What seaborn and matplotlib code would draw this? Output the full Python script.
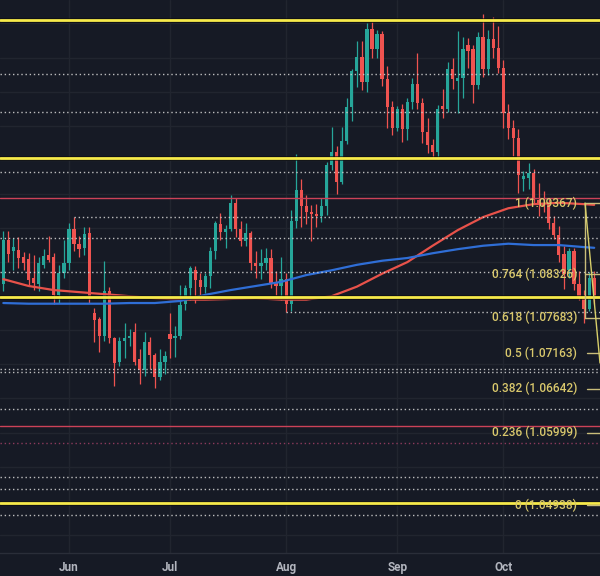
import numpy as np
import pandas as pd
import matplotlib
matplotlib.use("Agg")
import matplotlib.pyplot as plt
import matplotlib.transforms as mtrans
import seaborn as sns

# ---------------- data ----------------
dates = pd.bdate_range("2024-05-15", "2024-10-25")

opens = [1.0818, 1.0883, 1.0866, 1.0868, 1.0857, 1.0855, 1.0826, 1.0818, 1.0846, 1.0860, 1.0858, 1.0802, 1.0834,
         1.0848, 1.0898, 1.0877, 1.0870, 1.0893, 1.0775, 1.0766, 1.0741, 1.0808, 1.0739, 1.0704, 1.0734, 1.0739,
         1.0748, 1.0708, 1.0692, 1.0733, 1.0714, 1.0681, 1.0703,
         1.0744, 1.0738, 1.0742, 1.0788, 1.0812, 1.0838, 1.0824, 1.0813, 1.0830, 1.0867, 1.0906, 1.0894, 1.0898,
         1.0937, 1.0898, 1.0881, 1.0892, 1.0849, 1.0845, 1.0849, 1.0856, 1.0819, 1.0815,
         1.0825, 1.0789, 1.0910, 1.0956, 1.0932, 1.0923, 1.0920, 1.0917, 1.0932, 1.0992, 1.1012, 1.0968, 1.1028,
         1.1077, 1.1130, 1.1151, 1.1114, 1.1192, 1.1162, 1.1184, 1.1118, 1.1077,
         1.1047, 1.1074, 1.1045, 1.1085, 1.1111, 1.1083, 1.1041, 1.1022, 1.1011, 1.1079, 1.1075, 1.1133, 1.1116,
         1.1120, 1.1168, 1.1163, 1.1110, 1.1180, 1.1133, 1.1177, 1.1164,
         1.1134, 1.1068, 1.1046, 1.1032, 1.0972, 1.0974, 1.0980, 1.0941, 1.0935, 1.0937, 1.0908, 1.0890, 1.0862,
         1.0838, 1.0866, 1.0818, 1.0797, 1.0781, 1.0827]
highs = [1.0895, 1.0895, 1.0885, 1.0887, 1.0865, 1.0863, 1.0861, 1.0857, 1.0869, 1.0889, 1.0863, 1.0846, 1.0882,
         1.0907, 1.0916, 1.0889, 1.0902, 1.0902, 1.0783, 1.0769, 1.0852, 1.0814, 1.0740, 1.0740, 1.0761, 1.0752,
         1.0761, 1.0723, 1.0748, 1.0740, 1.0716, 1.0723, 1.0720,
         1.0776, 1.0757, 1.0816, 1.0817, 1.0845, 1.0845, 1.0834, 1.0834, 1.0872, 1.0910, 1.0922, 1.0904, 1.0948,
         1.0944, 1.0911, 1.0908, 1.0895, 1.0866, 1.0869, 1.0871, 1.0869, 1.0837, 1.0858,
         1.0834, 1.0926, 1.1009, 1.0972, 1.0949, 1.0934, 1.0935, 1.0944, 1.0997, 1.1048, 1.1021, 1.1048, 1.1091,
         1.1133, 1.1174, 1.1174, 1.1201, 1.1202, 1.1190, 1.1189, 1.1137, 1.1086,
         1.1079, 1.1082, 1.1090, 1.1120, 1.1156, 1.1090, 1.1062, 1.1030, 1.1081, 1.1104, 1.1144, 1.1150, 1.1189,
         1.1180, 1.1178, 1.1168, 1.1188, 1.1214, 1.1190, 1.1209, 1.1196,
         1.1147, 1.1082, 1.1058, 1.1045, 1.0983, 1.0996, 1.0986, 1.0966, 1.0955, 1.0942, 1.0918, 1.0903, 1.0873,
         1.0870, 1.0870, 1.0837, 1.0809, 1.0836, 1.0837]
lows = [1.0808, 1.0850, 1.0838, 1.0842, 1.0838, 1.0817, 1.0809, 1.0808, 1.0842, 1.0850, 1.0788, 1.0790, 1.0827,
        1.0838, 1.0867, 1.0858, 1.0860, 1.0790, 1.0733, 1.0718, 1.0735, 1.0732, 1.0668, 1.0697, 1.0710, 1.0727,
        1.0699, 1.0671, 1.0683, 1.0693, 1.0666, 1.0677, 1.0686,
        1.0710, 1.0711, 1.0737, 1.0780, 1.0795, 1.0790, 1.0802, 1.0805, 1.0812, 1.0855, 1.0883, 1.0871, 1.0895,
        1.0887, 1.0873, 1.0874, 1.0838, 1.0826, 1.0825, 1.0838, 1.0812, 1.0802, 1.0795,
        1.0777, 1.0778, 1.0900, 1.0902, 1.0906, 1.0881, 1.0902, 1.0909, 1.0919, 1.0985, 1.0950, 1.0964, 1.1023,
        1.1057, 1.1107, 1.1103, 1.1100, 1.1149, 1.1150, 1.1108, 1.1047, 1.1036,
        1.1042, 1.1026, 1.1029, 1.1075, 1.1075, 1.1025, 1.1010, 1.1002, 1.1001, 1.1062, 1.1070, 1.1104, 1.1068,
        1.1090, 1.1135, 1.1083, 1.1104, 1.1122, 1.1125, 1.1149, 1.1127,
        1.1046, 1.1030, 1.1006, 1.0951, 1.0954, 1.0957, 1.0936, 1.0918, 1.0923, 1.0898, 1.0884, 1.0850, 1.0811,
        1.0826, 1.0809, 1.0794, 1.0761, 1.0779, 1.0789]
closes = [1.0883, 1.0862, 1.0872, 1.0856, 1.0849, 1.0824, 1.0820, 1.0848, 1.0859, 1.0853, 1.0802, 1.0834, 1.0848,
          1.0898, 1.0876, 1.0869, 1.0891, 1.0800, 1.0765, 1.0741, 1.0808, 1.0739, 1.0702, 1.0734, 1.0739, 1.0742,
          1.0703, 1.0692, 1.0733, 1.0714, 1.0681, 1.0703, 1.0712,
          1.0737, 1.0742, 1.0787, 1.0812, 1.0841, 1.0824, 1.0813, 1.0830, 1.0867, 1.0907, 1.0894, 1.0898, 1.0937,
          1.0898, 1.0881, 1.0892, 1.0849, 1.0845, 1.0849, 1.0856, 1.0819, 1.0815, 1.0825,
          1.0789, 1.0910, 1.0956, 1.0932, 1.0923, 1.0920, 1.0917, 1.0932, 1.0992, 1.1012, 1.0968, 1.1028, 1.1077,
          1.1130, 1.1151, 1.1114, 1.1192, 1.1162, 1.1184, 1.1118, 1.1077, 1.1047,
          1.1074, 1.1045, 1.1085, 1.1111, 1.1083, 1.1041, 1.1022, 1.1011, 1.1074, 1.1075, 1.1133, 1.1118, 1.1120,
          1.1162, 1.1160, 1.1110, 1.1180, 1.1133, 1.1177, 1.1164, 1.1134,
          1.1068, 1.1046, 1.1032, 1.0978, 1.0976, 1.0980, 1.0941, 1.0935, 1.0932, 1.0908, 1.0890, 1.0860, 1.0832,
          1.0866, 1.0818, 1.0797, 1.0781, 1.0827, 1.0797]

ma_dates = ["2024-05-15", "2024-05-22", "2024-05-29", "2024-06-05", "2024-06-12", "2024-06-19", "2024-06-26",
            "2024-07-03", "2024-07-10", "2024-07-17", "2024-07-24", "2024-07-31", "2024-08-07", "2024-08-14",
            "2024-08-21", "2024-08-28", "2024-09-04", "2024-09-11", "2024-09-18", "2024-09-25", "2024-10-02",
            "2024-10-09", "2024-10-16", "2024-10-23", "2024-10-25"]
ma_red = [1.0825, 1.0815, 1.0809, 1.0806, 1.0803, 1.0800, 1.0797, 1.0795, 1.0795, 1.0796, 1.0797, 1.0795,
          1.0795, 1.0800, 1.0814, 1.0833, 1.0850, 1.0874, 1.0897, 1.0916, 1.0929, 1.0935, 1.0937, 1.0935, 1.0934]
ma_blue = [1.0790, 1.0789, 1.0789, 1.0789, 1.0789, 1.0790, 1.0790, 1.0793, 1.0802, 1.0809, 1.0815, 1.0821,
           1.0831, 1.0838, 1.0846, 1.0852, 1.0856, 1.0863, 1.0869, 1.0874, 1.0877, 1.0875, 1.0875, 1.0872, 1.0871]

month_labels = ["Jun", "Jul", "Aug", "Sep", "Oct"]
month_dates = ["2024-06-03", "2024-07-01", "2024-08-01", "2024-09-02", "2024-10-01"]

yellow_levels = [1.1205, 1.1003, 1.0799, 1.0497]
red_levels = [1.0944, 1.0609]
dotted_levels = [1.1126, 1.1070, 1.0982, 1.0885, 1.0835, 1.0693, 1.0689, 1.0635, 1.0535, 1.0517, 1.0479]
pink_dotted_levels = [1.0585]
partial_dotted = [(1.0916, "2024-06-04"), (1.0777, "2024-08-01")]

fib_ratios = ["1", "0.764", "0.618", "0.5", "0.382", "0.236", "0"]
fib_prices = [1.09367, 1.08326, 1.07683, 1.07163, 1.06642, 1.05999, 1.04938]

# ---------------- style ----------------
BG = "#161a25"
GRID = "#21252f"
UP = "#26a69a"
DOWN = "#ef5350"
YELLOW = "#f7ea4a"
REDLINE = "#cc4258"
FIB = "#d9c86c"

sns.set_theme(style="dark")
plt.rcParams["font.family"] = ["Roboto", "DejaVu Sans"]

fig = plt.figure(figsize=(6, 5.76), dpi=100)
fig.patch.set_facecolor(BG)
ax = fig.add_axes([0, 23 / 576, 1, 553 / 576])
ax.set_facecolor(BG)

pos = {d.strftime("%Y-%m-%d"): i for i, d in enumerate(dates)}
x = np.arange(len(dates))
o = np.array(opens); h = np.array(highs); l = np.array(lows); c = np.array(closes)
up = c >= o
cols = np.where(up, UP, DOWN)

XMIN, XMAX = -0.66, 118.15
ax.set_xlim(XMIN, XMAX)
ax.set_ylim(1.04234, 1.12344)

# grid
ax.set_yticks(np.arange(1.045, 1.1201, 0.005))
ax.set_xticks([pos[d] for d in month_dates])
ax.set_xticklabels(month_labels)
ax.grid(True, color=GRID, lw=1, zorder=0)
ax.tick_params(axis="y", left=False, labelleft=False)
ax.tick_params(axis="x", length=0, pad=5.5, labelcolor="#b2b5be", labelsize=8.5)
for lab in ax.get_xticklabels():
    lab.set_fontweight("bold")
for s in ["top", "left", "right"]:
    ax.spines[s].set_visible(False)
ax.spines["bottom"].set_color("#2a2e39")
ax.spines["bottom"].set_linewidth(1)

# candles
ax.vlines(x, l, h, colors=cols, lw=0.9, zorder=3)
body_lo = np.minimum(o, c)
body_h = np.maximum(np.abs(c - o), 0.00012)
ax.bar(x, body_h, bottom=body_lo, width=0.64, color=cols, linewidth=0, zorder=4)

# moving averages
ma_x = [pos[d] for d in ma_dates]
sns.lineplot(x=ma_x, y=ma_red, ax=ax, color="#e8524a", lw=1.6, zorder=5, sort=False)
sns.lineplot(x=ma_x, y=ma_blue, ax=ax, color="#2f6ed6", lw=1.6, zorder=5, sort=False)

# dotted lines
for yv in dotted_levels:
    ax.axhline(yv, color="#d0d0d0", lw=1.0, ls=(0, (1, 2)), zorder=6, alpha=0.9)
for yv in pink_dotted_levels:
    ax.axhline(yv, color="#8c3a5c", lw=1.0, ls=(0, (1, 2)), zorder=6)
for yv, d in partial_dotted:
    ax.hlines(yv, pos[d], XMAX, color="#d0d0d0", lw=1.0, ls=(0, (1, 2)), zorder=6, alpha=0.9)

# red thin lines
for yv in red_levels:
    ax.axhline(yv, color=REDLINE, lw=1.0, zorder=6)

# yellow thick lines
for yv in yellow_levels:
    ax.axhline(yv, color="#0c0c0c", lw=3.6, zorder=7, alpha=0.6)
    ax.axhline(yv, color=YELLOW, lw=2.0, zorder=7)

# fibonacci
trans = mtrans.blended_transform_factory(ax.transAxes, ax.transData)
for r, p in zip(fib_ratios, fib_prices):
    ax.text(0.9617, p, f"{r} ({p:.5f})", transform=trans, ha="right", va="center",
            color=FIB, fontsize=8.6, fontweight="medium", zorder=9)
for i, p in enumerate(fib_prices):
    x0 = 0.975 if i < 3 else 0.978
    ax.plot([x0, 1.0], [p, p], transform=trans, color="#c9bd7a", lw=1.0, zorder=8)
ax.plot([0.975, 0.975], [fib_prices[0], fib_prices[2]], transform=trans, color="#c9bd7a", lw=1.0, zorder=8)
ax.plot([0.975, 1.0], [fib_prices[0], 1.0702], transform=trans, color="#d8cf6a", lw=1.0, zorder=8)

ax.set_xlabel("")
ax.set_ylabel("")
fig.savefig("out.png", dpi=100, facecolor=BG)
